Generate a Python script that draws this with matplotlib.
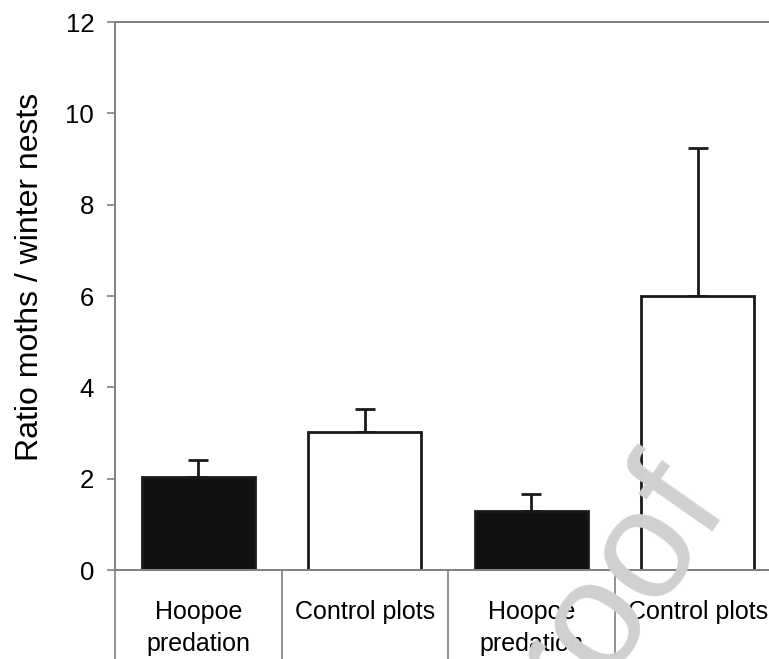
import matplotlib.pyplot as plt
import matplotlib.transforms as mtransforms

plt.rcParams['font.family'] = ['Liberation Sans', 'DejaVu Sans']

# data
categories = ['Hoopoe\npredation', 'Control plots', 'Hoopoe\npredation', 'Control plots']
means = [2.03, 3.02, 1.30, 6.00]
upper_err = [0.38, 0.50, 0.36, 3.25]
fills = ['#111111', 'white', '#111111', 'white']

fig = plt.figure(figsize=(7.69, 6.59), dpi=100)
ax = fig.add_axes([115 / 769, 89 / 659, 666 / 769, 548 / 659])

x = range(len(categories))
ax.bar(x, means, width=0.68, color=fills, edgecolor='#1a1a1a', linewidth=2, zorder=2)
ax.errorbar(x, means, yerr=[[0] * len(means), upper_err], fmt='none',
            ecolor='#1a1a1a', elinewidth=2, capsize=7, capthick=2, zorder=1)

ax.set_xlim(-0.5, 3.5)
ax.set_ylim(0, 12)
ax.set_yticks(range(0, 13, 2))
ax.set_xticks([])
ax.tick_params(axis='y', labelsize=18.5, length=6, width=1.2, color='#808080', pad=9)
ax.set_ylabel('Ratio moths / winter nests', fontsize=23)
ax.yaxis.set_label_coords(-0.127, 0.535)
ax.yaxis.label.set_va('center')

for s in ax.spines.values():
    s.set_color('#808080')
    s.set_linewidth(1.4)

# category separators and labels below the axis
trans = mtransforms.blended_transform_factory(ax.transData, ax.transAxes)
for b in [-0.5, 0.5, 1.5, 2.5]:
    ax.plot([b, b], [0, -0.2], color='#808080', lw=1.2, transform=trans, clip_on=False)
for i, lab in enumerate(categories):
    ax.text(i, -0.055, lab, transform=trans, ha='center', va='top',
            fontsize=18, linespacing=1.42)

# watermark
fig.text(592 / 769, 1 - 620 / 659, 'proof', fontsize=112, color='#d0d0d0',
         rotation=55, ha='center', va='center', rotation_mode='anchor', zorder=5)

fig.savefig('out.png', dpi=100)
